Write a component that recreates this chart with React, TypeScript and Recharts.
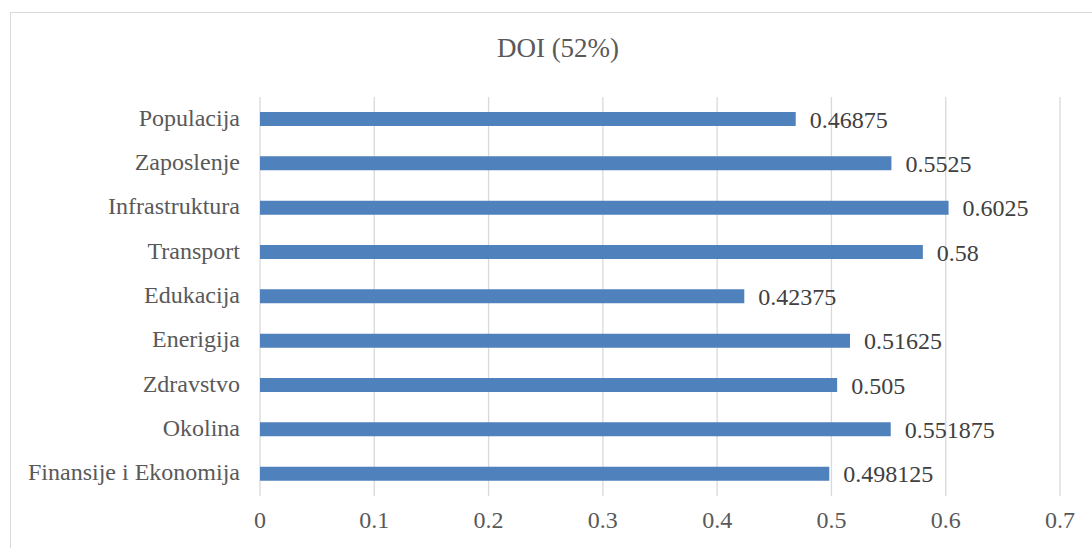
import React from "react";
import { BarChart, Bar, XAxis, YAxis, CartesianGrid, LabelList } from "recharts";

const categories = [
  "Populacija",
  "Zaposlenje",
  "Infrastruktura",
  "Transport",
  "Edukacija",
  "Enerigija",
  "Zdravstvo",
  "Okolina",
  "Finansije i Ekonomija",
];
const values = [0.46875, 0.5525, 0.6025, 0.58, 0.42375, 0.51625, 0.505, 0.551875, 0.498125];
const xTicks = [0, 0.1, 0.2, 0.3, 0.4, 0.5, 0.6, 0.7];

const data = categories.map((name, i) => ({ name, value: values[i] }));

const FONT = '"Liberation Serif", "Times New Roman", serif';

export default function App() {
  return (
    <div
      style={{
        position: "fixed",
        left: 0,
        top: 0,
        width: 1092,
        height: 548,
        overflow: "hidden",
        background: "#fff",
        fontFamily: FONT,
      }}
    >
      {/* chart frame, runs off the right and bottom edge like the source */}
      <div
        style={{
          position: "absolute",
          left: 10,
          top: 12,
          width: 1095,
          height: 600,
          border: "1px solid #d9d9d9",
        }}
      />
      <div
        style={{
          position: "absolute",
          left: 0,
          width: 1116,
          top: 33,
          textAlign: "center",
          fontSize: 27,
          lineHeight: "31px",
          color: "#595959",
        }}
      >
        DOI (52%)
      </div>
      <BarChart
        width={1092}
        height={548}
        data={data}
        layout="vertical"
        margin={{ top: 97, right: 32, bottom: 0, left: 0 }}
        style={{ position: "absolute", left: 0, top: 0 }}
      >
        <CartesianGrid horizontal={false} stroke="#d9d9d9" strokeWidth={1.3} />
        <XAxis
          type="number"
          domain={[0, 0.7]}
          ticks={xTicks}
          axisLine={false}
          tickLine={false}
          tickSize={0}
          tickMargin={15}
          height={52}
          interval={0}
          tick={{ fill: "#595959", fontSize: 24, fontFamily: FONT }}
        />
        <YAxis
          type="category"
          dataKey="name"
          width={260}
          axisLine={false}
          tickLine={false}
          tickSize={0}
          tickMargin={20}
          interval={0}
          tick={{ fill: "#595959", fontSize: 24, fontFamily: FONT, dy: -2 }}
        />
        <Bar dataKey="value" fill="#4f81bd" barSize={14} isAnimationActive={false}>
          <LabelList
            dataKey="value"
            position="right"
            offset={14}
            fill="#404040"
            fontSize={24}
            fontFamily={FONT}
          />
        </Bar>
      </BarChart>
    </div>
  );
}
